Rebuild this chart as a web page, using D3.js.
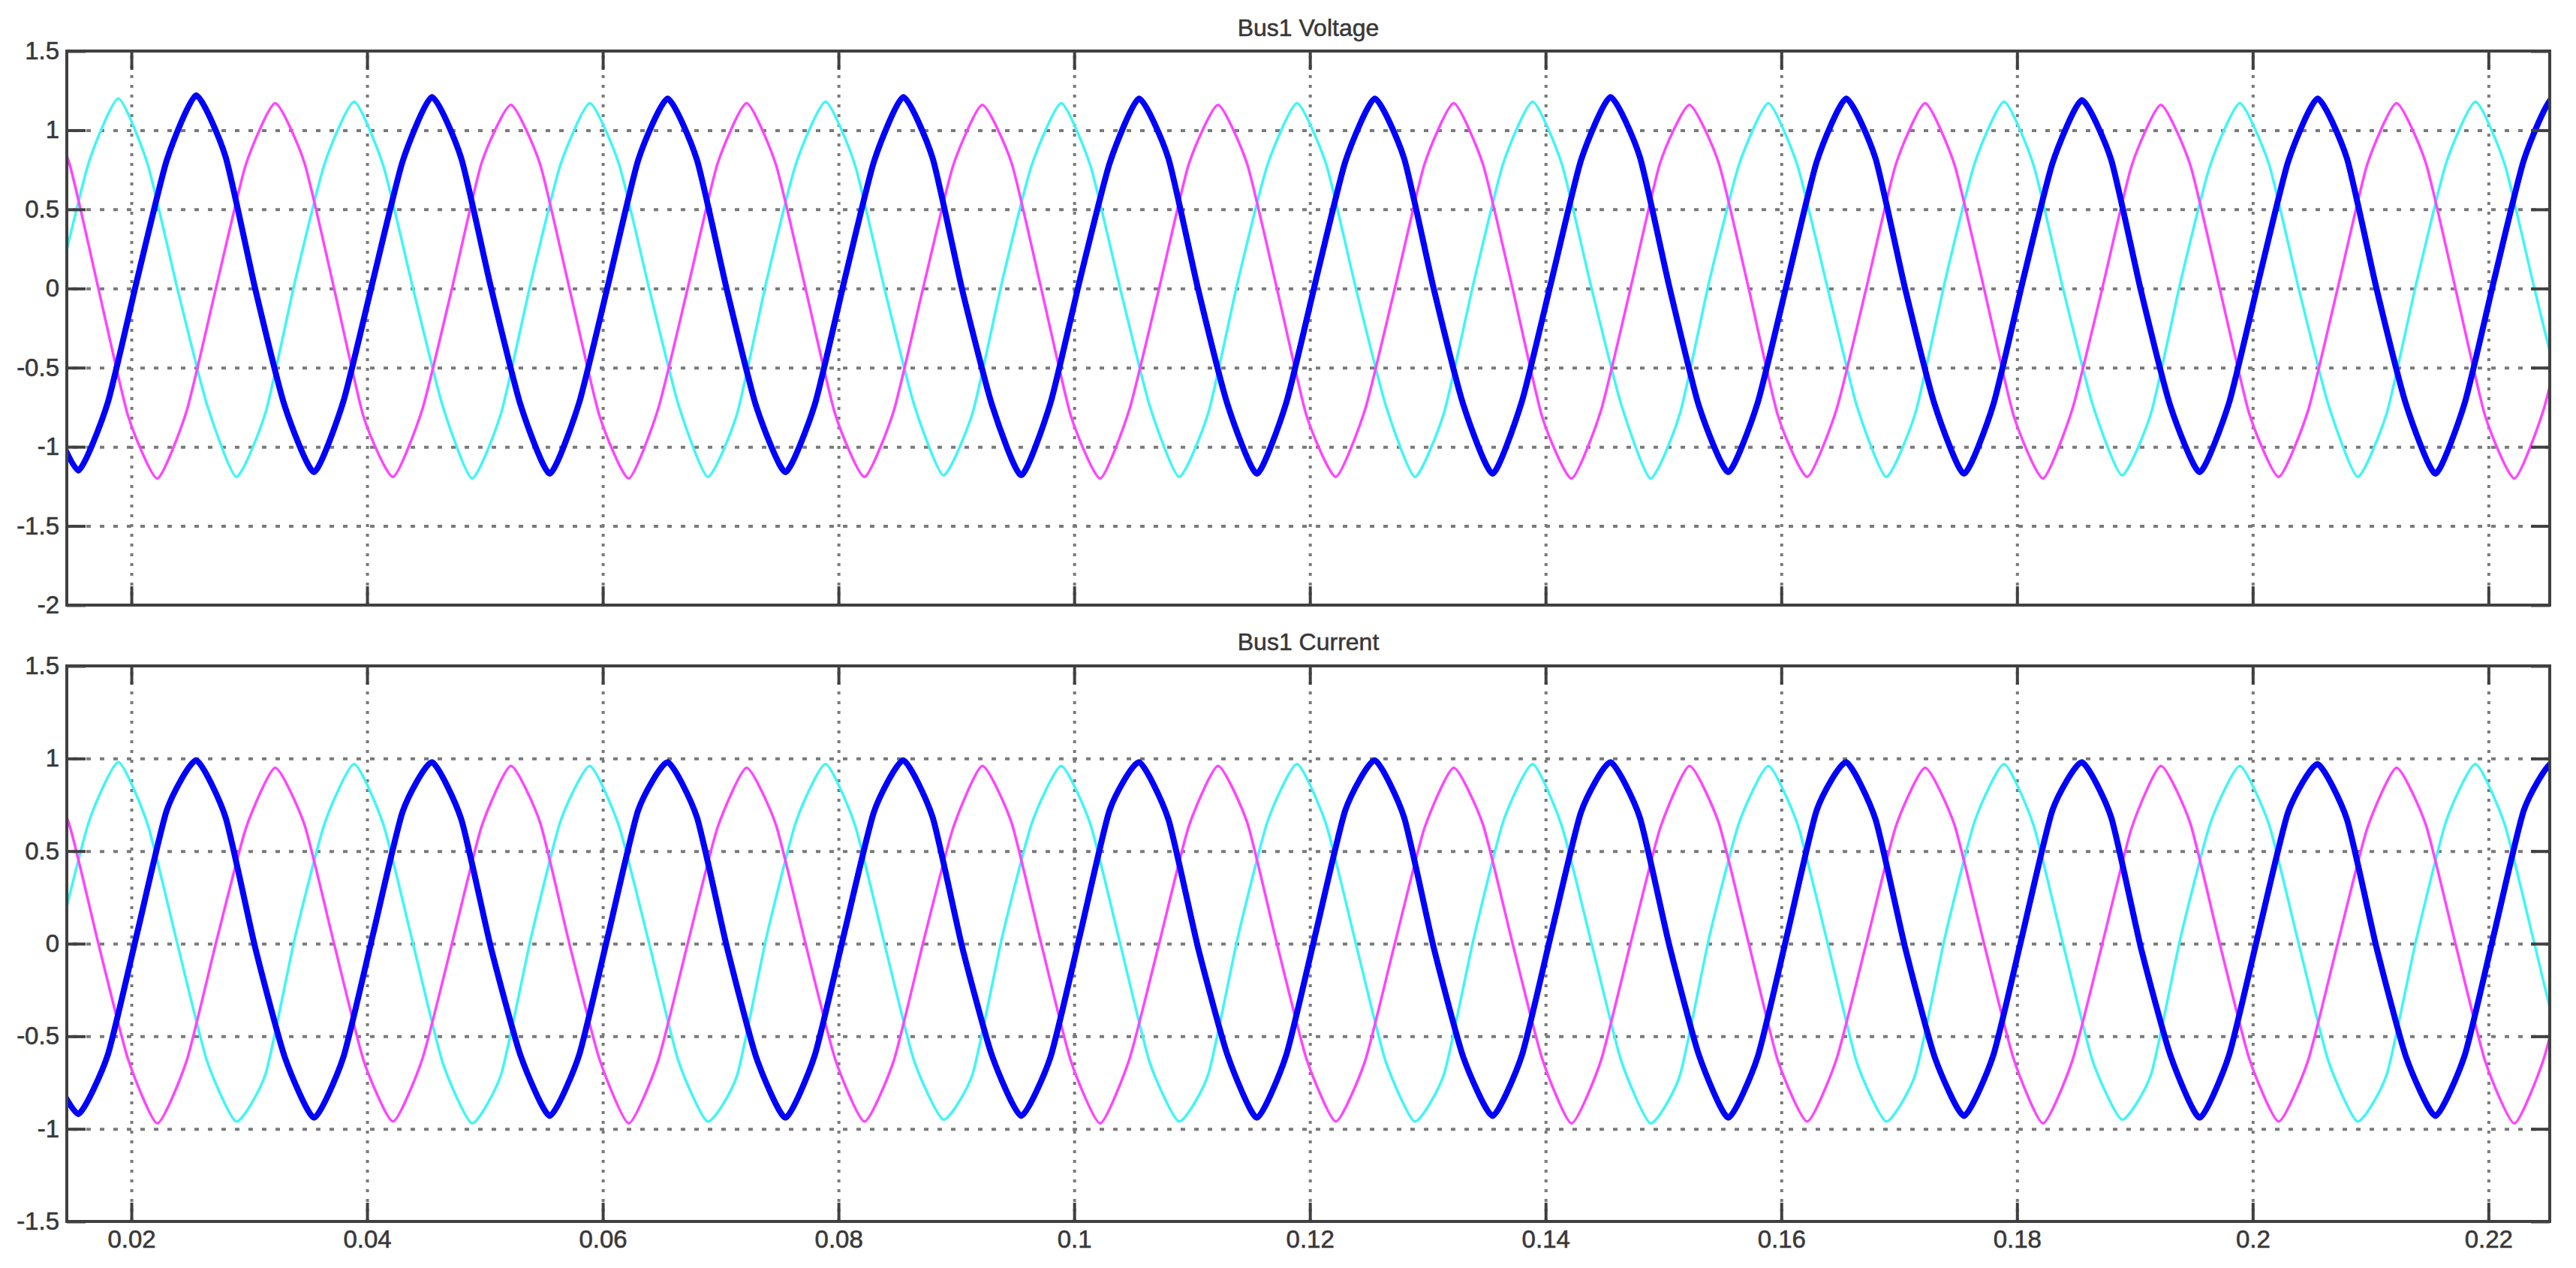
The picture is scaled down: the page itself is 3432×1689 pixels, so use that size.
<!DOCTYPE html>
<html>
<head>
<meta charset="utf-8">
<script src="https://cdn.jsdelivr.net/npm/d3@7"></script>
<style>
body { margin: 0; background: #fff; }
text { font-family: "Liberation Sans", Arial, sans-serif; fill: #383838; }
</style>
</head>
<body>
<div id="chart-area"></div>
<script>
var width = 3432;
var height = 1689;

// each series is sampled every 2.5 ms, starting at its own first sample
var sampleStep = 0.0025;
var blueStart = 0.013;
var pinkStart = 0.0122;
var cyanStart = 0.0139;

var voltageBlue = [
    -0.78,-1.15,-0.72,0.06,0.81,1.22,0.83,0.00,
    -0.74,-1.16,-0.71,0.05,0.80,1.21,0.82,0.01,
    -0.73,-1.17,-0.72,0.04,0.81,1.20,0.81,0.00,
    -0.74,-1.16,-0.73,0.05,0.80,1.21,0.82,-0.01,
    -0.73,-1.18,-0.72,0.06,0.79,1.20,0.82,0.00,
    -0.73,-1.17,-0.72,0.05,0.80,1.20,0.82,0.00,
    -0.73,-1.17,-0.71,0.05,0.81,1.21,0.83,0.01,
    -0.74,-1.16,-0.72,0.04,0.80,1.20,0.82,0.00,
    -0.73,-1.17,-0.73,0.05,0.79,1.19,0.81,-0.01,
    -0.74,-1.16,-0.72,0.05,0.80,1.20,0.82,0.00,
    -0.73,-1.17,-0.72,0.06,0.81,1.21,0.83,0.00
];
var voltagePink = [
    1.18,0.80,0.00,-0.80,-1.20,-0.77,0.01,0.78,
    1.17,0.79,0.00,-0.81,-1.19,-0.76,0.00,0.79,
    1.16,0.78,-0.01,-0.80,-1.20,-0.76,0.00,0.78,
    1.17,0.78,0.00,-0.79,-1.19,-0.77,0.01,0.77,
    1.16,0.79,0.00,-0.80,-1.20,-0.76,0.00,0.78,
    1.16,0.78,0.00,-0.80,-1.19,-0.76,0.00,0.78,
    1.17,0.78,0.00,-0.81,-1.20,-0.77,0.00,0.79,
    1.16,0.79,0.01,-0.80,-1.19,-0.76,0.00,0.78,
    1.17,0.78,0.00,-0.80,-1.20,-0.76,-0.01,0.77,
    1.16,0.78,0.00,-0.79,-1.19,-0.77,0.00,0.78,
    1.17,0.79,0.00,-0.80,-1.20,-0.76,0.00,0.78
];
var voltageCyan = [
    0.05,0.80,1.20,0.78,0.00,-0.73,-1.19,-0.78,
    0.05,0.79,1.18,0.77,0.00,-0.74,-1.20,-0.78,
    0.04,0.78,1.17,0.78,0.01,-0.73,-1.19,-0.79,
    0.05,0.79,1.18,0.78,0.00,-0.73,-1.18,-0.78,
    0.05,0.78,1.17,0.77,0.00,-0.74,-1.19,-0.78,
    0.05,0.78,1.17,0.78,0.00,-0.73,-1.19,-0.78,
    0.04,0.79,1.18,0.78,0.00,-0.73,-1.20,-0.79,
    0.05,0.78,1.17,0.77,0.01,-0.74,-1.19,-0.78,
    0.05,0.79,1.18,0.78,0.00,-0.73,-1.18,-0.78,
    0.05,0.78,1.17,0.78,0.00,-0.73,-1.19,-0.78,
    0.04,0.79,1.18,0.78,0.00,-0.74,-1.19,-0.78
];

var currentBlue = [
    -0.66,-0.92,-0.60,0.06,0.72,0.99,0.68,-0.02,
    -0.61,-0.94,-0.61,0.05,0.71,0.98,0.67,-0.02,
    -0.60,-0.93,-0.60,0.06,0.72,0.98,0.68,-0.01,
    -0.61,-0.94,-0.60,0.06,0.71,0.99,0.68,-0.02,
    -0.60,-0.93,-0.61,0.05,0.72,0.98,0.67,-0.02,
    -0.60,-0.94,-0.60,0.06,0.72,0.99,0.68,-0.02,
    -0.61,-0.93,-0.60,0.06,0.71,0.98,0.68,-0.01,
    -0.60,-0.94,-0.61,0.05,0.72,0.98,0.67,-0.02,
    -0.61,-0.93,-0.60,0.06,0.72,0.98,0.68,-0.02,
    -0.60,-0.94,-0.60,0.06,0.71,0.97,0.67,-0.02,
    -0.61,-0.93,-0.60,0.06,0.72,0.98,0.68,-0.02
];
var currentPink = [
    0.96,0.65,0.00,-0.62,-0.97,-0.63,0.01,0.62,
    0.95,0.64,0.00,-0.63,-0.96,-0.62,0.00,0.63,
    0.96,0.65,-0.01,-0.62,-0.97,-0.63,0.00,0.62,
    0.95,0.64,0.00,-0.62,-0.96,-0.63,0.01,0.62,
    0.96,0.65,0.00,-0.63,-0.97,-0.62,0.00,0.63,
    0.96,0.65,0.00,-0.62,-0.96,-0.63,0.00,0.62,
    0.95,0.64,0.00,-0.62,-0.97,-0.63,0.00,0.62,
    0.96,0.65,0.01,-0.63,-0.96,-0.62,0.00,0.63,
    0.95,0.64,0.00,-0.62,-0.97,-0.63,-0.01,0.62,
    0.96,0.65,0.00,-0.62,-0.96,-0.63,0.00,0.62,
    0.95,0.64,0.00,-0.63,-0.97,-0.62,0.00,0.62
];
var currentCyan = [
    0.04,0.66,0.98,0.64,0.00,-0.63,-0.96,-0.70,
    0.04,0.65,0.97,0.64,0.00,-0.64,-0.97,-0.70,
    0.03,0.66,0.96,0.63,0.01,-0.63,-0.96,-0.71,
    0.04,0.66,0.97,0.64,0.00,-0.63,-0.95,-0.70,
    0.04,0.65,0.96,0.64,0.00,-0.64,-0.96,-0.70,
    0.04,0.66,0.97,0.64,0.00,-0.63,-0.96,-0.70,
    0.03,0.66,0.97,0.63,0.00,-0.63,-0.97,-0.71,
    0.04,0.65,0.96,0.64,0.01,-0.64,-0.96,-0.70,
    0.04,0.66,0.97,0.64,0.00,-0.63,-0.95,-0.70,
    0.04,0.65,0.96,0.64,0.00,-0.63,-0.96,-0.70,
    0.03,0.66,0.97,0.64,0.00,-0.64,-0.96,-0.70
];

var xTicks = [0.02, 0.04, 0.06, 0.08, 0.1, 0.12, 0.14, 0.16, 0.18, 0.2, 0.22];
var voltageTicks = [1.5, 1, 0.5, 0, -0.5, -1, -1.5, -2];
var currentTicks = [1.5, 1, 0.5, 0, -0.5, -1, -1.5];
var panelTitles = ["Bus1 Voltage", "Bus1 Current"];

var colorBlue = "#0000ff";
var colorPink = "#ff44ff";
var colorCyan = "#3ff6f6";

var svg = d3.select("#chart-area").append("svg")
    .attr("width", width)
    .attr("height", height);

svg.append("rect")
    .attr("width", width)
    .attr("height", height)
    .attr("fill", "#fff");

var plotLeft = 89;
var plotRight = 3397;

var x = d3.scaleLinear()
    .domain([0.01452, 0.2252])
    .range([plotLeft, plotRight]);

function toPoints(values, start)
{
    return values.map(function(v, i){ return [start + i * sampleStep, v]; });
}

var panels = [
    {
        title: panelTitles[0], top: 68, bottom: 806, domain: [-2, 1.5],
        ticks: voltageTicks, xLabels: false, titleY: 48,
        series: [
            {points: toPoints(voltageCyan, cyanStart), color: colorCyan, w: 3.5},
            {points: toPoints(voltagePink, pinkStart), color: colorPink, w: 3.5},
            {points: toPoints(voltageBlue, blueStart), color: colorBlue, w: 8}
        ]
    },
    {
        title: panelTitles[1], top: 887, bottom: 1627, domain: [-1.5, 1.5],
        ticks: currentTicks, xLabels: true, titleY: 866,
        series: [
            {points: toPoints(currentCyan, cyanStart), color: colorCyan, w: 3.5},
            {points: toPoints(currentPink, pinkStart), color: colorPink, w: 3.5},
            {points: toPoints(currentBlue, blueStart), color: colorBlue, w: 8}
        ]
    }
];

panels.forEach(function(p, idx)
{
    var y = d3.scaleLinear()
        .domain(p.domain)
        .range([p.bottom, p.top]);

    var inner = p.ticks.filter(function(t){ return t > p.domain[0] && t < p.domain[1]; });

    //dotted grid
    var gx = svg.append("g")
        .attr("transform", "translate(0," + p.bottom + ")")
        .call(d3.axisBottom(x).tickValues(xTicks).tickSize(-(p.bottom - p.top)).tickFormat(""));
    gx.select(".domain").remove();
    gx.selectAll("line")
        .attr("stroke", "#7a7a7a")
        .attr("stroke-width", 4)
        .attr("stroke-dasharray", "4,9");

    var gy = svg.append("g")
        .attr("transform", "translate(" + plotLeft + ",0)")
        .call(d3.axisLeft(y).tickValues(inner).tickSize(-(plotRight - plotLeft)).tickFormat(""));
    gy.select(".domain").remove();
    gy.selectAll("line")
        .attr("stroke", "#7a7a7a")
        .attr("stroke-width", 4)
        .attr("stroke-dasharray", "6,12")
        .attr("stroke-dashoffset", -8);

    //waveforms
    var clipId = "clip" + idx;
    svg.append("clipPath")
        .attr("id", clipId)
        .append("rect")
        .attr("x", plotLeft)
        .attr("y", p.top)
        .attr("width", plotRight - plotLeft)
        .attr("height", p.bottom - p.top);

    var line = d3.line()
        .x(function(d){ return x(d[0]); })
        .y(function(d){ return y(d[1]); })
        .curve(d3.curveCardinal.tension(0.45));

    svg.append("g")
        .attr("clip-path", "url(#" + clipId + ")")
        .selectAll("path")
        .data(p.series)
        .enter()
        .append("path")
        .attr("d", function(d){ return line(d.points); })
        .attr("fill", "none")
        .attr("stroke", function(d){ return d.color; })
        .attr("stroke-width", function(d){ return d.w; })
        .attr("stroke-linejoin", "round");

    //axes with inward ticks
    var axes = [
        {a: d3.axisBottom(x).tickValues(xTicks), t: "translate(0," + p.bottom + ")", labels: p.xLabels},
        {a: d3.axisTop(x).tickValues(xTicks), t: "translate(0," + p.top + ")", labels: false},
        {a: d3.axisLeft(y).tickValues(p.ticks), t: "translate(" + plotLeft + ",0)", labels: true},
        {a: d3.axisRight(y).tickValues(p.ticks), t: "translate(" + plotRight + ",0)", labels: false}
    ];
    axes.forEach(function(ax, k)
    {
        ax.a.tickSize(-25)
            .tickPadding(k == 0 ? 12 : 10)
            .tickFormat(ax.labels ? function(d){ return String(d); } : "");
        var g = svg.append("g")
            .attr("transform", ax.t)
            .call(ax.a);
        g.select(".domain").remove();
        g.selectAll("line")
            .attr("stroke", "#404040")
            .attr("stroke-width", 4);
        g.selectAll("text")
            .attr("font-size", 33)
            .attr("fill", "#383838")
            .attr("font-family", "'Liberation Sans', Arial, sans-serif")
            .attr("stroke", "#383838")
            .attr("stroke-width", 0.6);
    });

    svg.append("rect")
        .attr("x", plotLeft)
        .attr("y", p.top)
        .attr("width", plotRight - plotLeft)
        .attr("height", p.bottom - p.top)
        .attr("fill", "none")
        .attr("stroke", "#404040")
        .attr("stroke-width", 4);

    svg.append("text")
        .text(p.title)
        .attr("x", (plotLeft + plotRight) / 2)
        .attr("y", p.titleY)
        .attr("text-anchor", "middle")
        .attr("font-size", 32)
        .attr("fill", "#333")
        .attr("stroke", "#333")
        .attr("stroke-width", 0.5);
});
</script>
</body>
</html>
